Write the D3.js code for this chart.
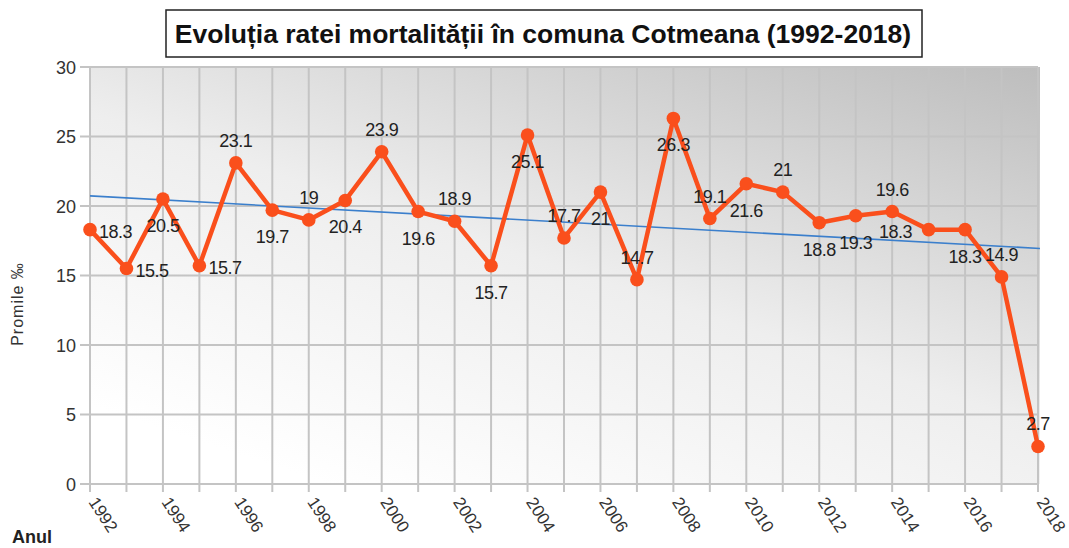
<!DOCTYPE html>
<html>
<head>
<meta charset="utf-8">
<script src="https://cdn.jsdelivr.net/npm/d3@7"></script>
<style>
  body { margin: 0; background: #fff; }
  text { font-family: "Liberation Sans", Arial, sans-serif; }
</style>
</head>
<body>
<div id="chart"></div>
<script>
// date: rata mortalitatii (promile), comuna Cotmeana
var years = d3.range(1992, 2019);
var rates = [18.3, 15.5, 20.5, 15.7, 23.1, 19.7, 19, 20.4, 23.9, 19.6, 18.9, 15.7, 25.1, 17.7,
             21, 14.7, 26.3, 19.1, 21.6, 21, 18.8, 19.3, 19.6, 18.3, 18.3, 14.9, 2.7];
var yTicks = [0, 5, 10, 15, 20, 25, 30];
var xTickYears = d3.range(1992, 2019, 2);
// unde sta eticheta fata de punct: r = dreapta, a = deasupra, b = dedesubt, l = stanga
var labelPos = ["r", "r", "b", "r", "a", "b", "a", "b", "a", "b", "a", "b", "b", "a",
                "b", "a", "b", "a", "b", "a", "b", "b", "a", "l", "b", "a", "a"];

const W = 1069, H = 548;
const pLeft = 90, pRight = 1038, pTop = 67, pBottom = 484;

var svg = d3.select("#chart").append("svg")
  .attr("width", W).attr("height", H);

var defs = svg.append("defs");
var grad = defs.append("linearGradient").attr("id", "bg")
  .attr("x1", "0.25").attr("y1", "1").attr("x2", "1").attr("y2", "0");
grad.append("stop").attr("offset", "0").attr("stop-color", "#ffffff");
grad.append("stop").attr("offset", "0.45").attr("stop-color", "#eeeeee");
grad.append("stop").attr("offset", "1").attr("stop-color", "#bdbdbd");

var x = d3.scaleLinear().domain([1992, 2018]).range([pLeft, pRight]);
var y = d3.scaleLinear().domain([0, 30]).range([pBottom, pTop]);

// fundal
svg.append("rect")
  .attr("x", pLeft).attr("y", pTop)
  .attr("width", pRight - pLeft + 2).attr("height", pBottom - pTop)
  .attr("fill", "url(#bg)");

// grila verticala (fiecare an) + tick-uri
svg.append("g").selectAll("line")
  .data(years).enter().append("line")
  .attr("x1", function(d) { return x(d); }).attr("x2", function(d) { return x(d); })
  .attr("y1", pTop).attr("y2", pBottom + 8)
  .style("stroke", "#c4c4c4").style("stroke-width", 2);

// grila orizontala
svg.append("g").selectAll("line")
  .data(yTicks).enter().append("line")
  .attr("x1", pLeft - 10).attr("x2", pRight)
  .attr("y1", function(d) { return y(d); }).attr("y2", function(d) { return y(d); })
  .style("stroke", "#c4c4c4").style("stroke-width", 2);

// axa Y
var yAxis = d3.axisLeft(y).tickValues(yTicks).tickSize(0).tickPadding(0);
var gy = svg.append("g").attr("transform", "translate(" + (pLeft - 14) + ",0)").call(yAxis);
gy.select(".domain").remove();
gy.selectAll("text").style("font-size", "18px").style("fill", "#333")
  .style("font-family", "'Liberation Sans', Arial, sans-serif")
  .attr("dy", "0.35em");

// axa X
svg.append("g").selectAll("text")
  .data(xTickYears).enter().append("text")
  .attr("transform", function(d) { return "translate(" + (x(d) - 2) + "," + (pBottom + 18) + ") rotate(57)"; })
  .style("font-size", "17px").style("fill", "#333")
  .text(function(d) { return d; });

svg.append("text")
  .attr("transform", "translate(23," + 304 + ") rotate(270)")
  .attr("text-anchor", "middle")
  .style("font-size", "16px").style("fill", "#333").style("letter-spacing", "1px")
  .text("Promile ‰");

svg.append("text")
  .attr("x", 12).attr("y", 543)
  .style("font-size", "18px").style("font-weight", "bold").style("fill", "#222")
  .text("Anul");

// linia de trend (regresie liniara)
var mx = d3.mean(years), my = d3.mean(rates);
var sxy = d3.sum(years, function(d, i) { return (d - mx) * (rates[i] - my); });
var sxx = d3.sum(years, function(d) { return (d - mx) * (d - mx); });
var slope = sxy / sxx;
svg.append("line")
  .attr("x1", x(1992)).attr("y1", y(my + slope * (1992 - mx)))
  .attr("x2", x(2018) + 2).attr("y2", y(my + slope * (2018.05 - mx)))
  .style("stroke", "#3b7fcc").style("stroke-width", 1.6);

// seria
var pts = years.map(function(d, i) { return { year: d, v: rates[i], pos: labelPos[i] }; });
var line = d3.line().x(function(d) { return x(d.year); }).y(function(d) { return y(d.v); });
svg.append("path").datum(pts)
  .attr("d", line)
  .style("fill", "none").style("stroke", "#fa4f1c").style("stroke-width", 4.5)
  .style("stroke-linejoin", "round");

svg.append("g").selectAll("circle")
  .data(pts).enter().append("circle")
  .attr("cx", function(d) { return x(d.year); })
  .attr("cy", function(d) { return y(d.v); })
  .attr("r", 6.8)
  .style("fill", "#fa4f1c");

// etichete valori
svg.append("g").selectAll("text")
  .data(pts).enter().append("text")
  .attr("x", function(d) {
    if (d.pos == "r") return x(d.year) + 9;
    if (d.pos == "l") return x(d.year) - 33;
    return x(d.year);
  })
  .attr("y", function(d) {
    if (d.pos == "r" || d.pos == "l") return y(d.v) + 8;
    if (d.pos == "a") return y(d.v) - 16;
    return y(d.v) + 33;
  })
  .attr("text-anchor", function(d) { return d.pos == "r" ? "start" : "middle"; })
  .style("font-size", "18px").style("fill", "#222").style("letter-spacing", "-0.5px")
  .text(function(d) { return d.v; });

// titlu
svg.append("rect")
  .attr("x", 166).attr("y", 10).attr("width", 756).attr("height", 47)
  .style("fill", "#fff").style("stroke", "#222").style("stroke-width", 1.5);
svg.append("text")
  .attr("x", 543).attr("y", 43)
  .attr("text-anchor", "middle")
  .style("font-size", "26.5px").style("font-weight", "bold").style("fill", "#111")
  .text("Evoluția ratei mortalității în comuna Cotmeana (1992-2018)");
</script>
</body>
</html>
